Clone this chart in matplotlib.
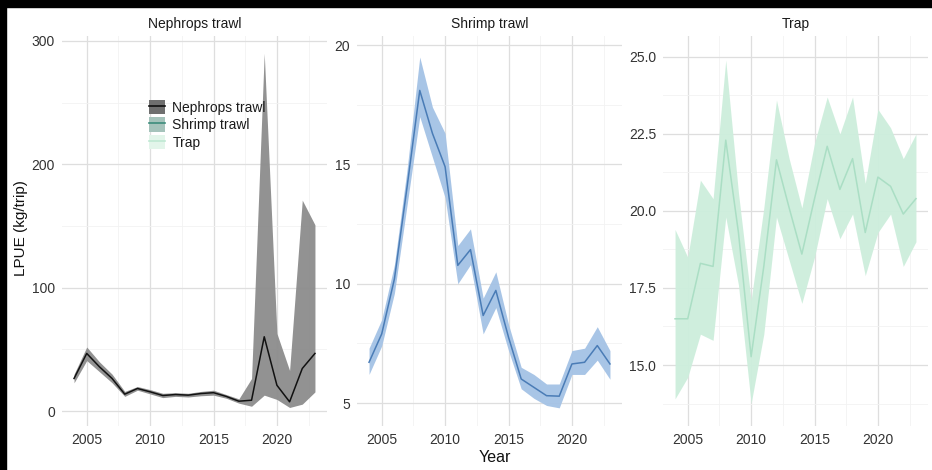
import matplotlib
matplotlib.use("Agg")
import matplotlib.pyplot as plt
from matplotlib.patches import Patch, Rectangle
from matplotlib.lines import Line2D
from matplotlib.ticker import MultipleLocator

plt.rcParams['font.family'] = ['Liberation Sans', 'DejaVu Sans']

years = list(range(2004, 2024))

neph_mean = [26.5, 46.8, 36, 26.5, 13.8, 18.4, 15.7, 12.7, 13.5, 13, 14.3, 15, 12, 8.1, 8.9, 60.3, 21, 7.6, 34.6, 46.8]
neph_lo = [23, 41, 32, 23, 12, 17, 14, 11, 12, 11.5, 12.5, 13, 10.5, 6.5, 4, 13, 9.5, 3, 5.7, 15.6]
neph_hi = [30, 52, 40, 30, 16, 20, 17.5, 14.5, 15, 14.5, 16, 17, 13.5, 10, 26.5, 290, 63, 33, 171, 151]

shrimp_mean = [6.71, 7.9, 10.2, 14.06, 18.1, 16.3, 14.9, 10.77, 11.43, 8.67, 9.72, 7.76, 6.01, 5.66, 5.31, 5.29, 6.64, 6.71, 7.41, 6.64]
shrimp_lo = [6.2, 7.4, 9.6, 13.3, 17.0, 15.3, 13.6, 10.0, 10.8, 7.9, 9.0, 7.2, 5.6, 5.2, 4.9, 4.8, 6.2, 6.2, 6.8, 6.0]
shrimp_hi = [7.3, 8.5, 10.8, 14.8, 19.5, 17.4, 16.3, 11.6, 12.3, 9.4, 10.5, 8.3, 6.5, 6.2, 5.8, 5.8, 7.2, 7.3, 8.2, 7.2]

trap_mean = [16.5, 16.5, 18.3, 18.2, 22.3, 19.3, 15.27, 18.2, 21.66, 20.1, 18.6, 20.4, 22.1, 20.7, 21.7, 19.3, 21.1, 20.8, 19.9, 20.4]
trap_lo = [13.9, 14.6, 16.0, 15.8, 19.8, 17.6, 13.75, 16.0, 19.8, 18.4, 17.0, 18.5, 20.4, 19.1, 19.9, 17.9, 19.3, 19.9, 18.2, 19.0]
trap_hi = [19.4, 18.5, 21.0, 20.4, 24.9, 20.6, 17.1, 20.1, 23.6, 21.7, 20.1, 22.2, 23.7, 22.5, 23.7, 20.9, 23.3, 22.7, 21.7, 22.5]

titles = ["Nephrops trawl", "Shrimp trawl", "Trap"]
series = [(neph_mean, neph_lo, neph_hi), (shrimp_mean, shrimp_lo, shrimp_hi), (trap_mean, trap_lo, trap_hi)]
fills = ["#8c8c8c", "#a4c2e5", "#cdeedc"]
lines = ["#111111", "#4a7cb6", "#aadec4"]
ylims = [(-12, 304), (4.04, 20.38), (13.02, 25.68)]
yticks = [[0, 100, 200, 300], [5, 10, 15, 20], [15.0, 17.5, 20.0, 22.5, 25.0]]
ytick_labels = [["0", "100", "200", "300"], ["5", "10", "15", "20"], ["15.0", "17.5", "20.0", "22.5", "25.0"]]
yminor = [50, 2.5, 1.25]
xticks = [2005, 2010, 2015, 2020]

W, H = 932, 470
fig = plt.figure(figsize=(W / 100, H / 100), dpi=100)
fig.patch.set_facecolor("white")

lefts = [62, 357, 663]
width = 265
bottom_px, top_px = 426, 36
axes = []
for i in range(3):
    ax = fig.add_axes([lefts[i] / W, (H - bottom_px) / H, width / W, (bottom_px - top_px) / H])
    axes.append(ax)
    m, lo, hi = series[i]
    ax.fill_between(years, lo, hi, color=fills[i], alpha=0.95, linewidth=0, zorder=2)
    ax.plot(years, m, color=lines[i], linewidth=1.1, zorder=3)
    ax.set_xlim(2003.05, 2023.95)
    ax.set_ylim(*ylims[i])
    ax.set_xticks(xticks)
    ax.set_xticklabels([str(x) for x in xticks])
    ax.set_yticks(yticks[i])
    ax.set_yticklabels(ytick_labels[i])
    ax.xaxis.set_minor_locator(MultipleLocator(2.5))
    ax.yaxis.set_minor_locator(MultipleLocator(yminor[i]))
    ax.grid(True, which="major", color="#dedede", linewidth=0.9, zorder=0)
    ax.grid(True, which="minor", color="#f2f2f2", linewidth=0.6, zorder=0)
    ax.set_axisbelow(True)
    for s in ax.spines.values():
        s.set_visible(False)
    ax.tick_params(which="both", length=0, labelsize=10, labelcolor="#333333", pad=5)
    ax.set_title(titles[i], fontsize=10, color="#1a1a1a", pad=6)

fig.text(21 / W, 1 - 228 / H, "LPUE (kg/trip)", rotation=90, ha="center", va="center", fontsize=11, color="#111111")
fig.text(495 / W, 1 - 457 / H, "Year", ha="center", va="center", fontsize=11.5, color="#111111")

# legend
key_fills = ["#6f6f6f", "#a5c3bb", "#e2f5ea"]
key_lines = ["#111111", "#3d8c7c", "#bfe8d3"]
handles = [(Patch(facecolor=key_fills[k], edgecolor="none"), Line2D([], [], color=key_lines[k], linewidth=1.2)) for k in range(3)]
leg = axes[0].legend(handles=handles, labels=titles, loc="upper left", bbox_to_anchor=(139 / W, 1 - 90 / H),
                     bbox_transform=fig.transFigure, frameon=False, fontsize=10, handlelength=1.2, handleheight=1.2,
                     handletextpad=0.5, labelspacing=0.2, borderpad=0.2)
for t in leg.get_texts():
    t.set_color("#1a1a1a")

# black borders of the source image
fig.patches.append(Rectangle((0, 1 - 7 / H), 1, 7 / H, transform=fig.transFigure, color="black", zorder=10))
fig.patches.append(Rectangle((0, 0), 6 / W, 1, transform=fig.transFigure, color="black", zorder=10))

fig.savefig("out.png", dpi=100)
